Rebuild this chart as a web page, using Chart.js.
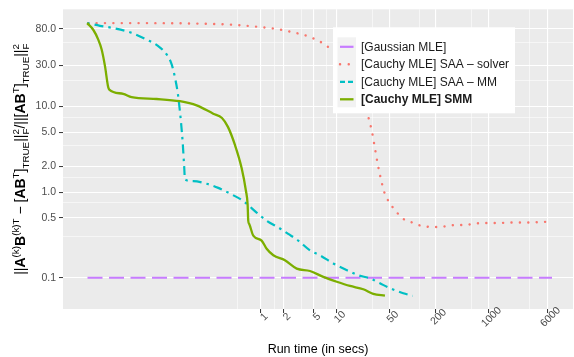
<!DOCTYPE html>
<html lang="en">
<head>
  <meta charset="UTF-8">
  <title>Run time vs error</title>
  <script src="https://cdn.jsdelivr.net/npm/chart.js"></script>
  <style>
    body { margin: 0; background: #fff; }
    #wrap { width: 574px; height: 357px; }
  </style>
</head>
<body>
  <div id="wrap"><canvas id="myChart" width="574" height="357"></canvas></div>
  <script>
    const FONT = '"Liberation Sans", Arial, sans-serif';

    // run times (secs) and relative errors
    const gaussTime = [0.0052, 6970];
    const gaussErr = [0.1, 0.1];

    const solverTime = [0.0053, 0.0347, 0.158, 0.431, 0.98, 1.64, 2.67, 4.47, 7.05, 8.47, 11.1, 15.1, 19.2, 22.4,
      26.1, 29.4, 32.2, 35.3, 39.5, 42.0, 46.4, 52.8, 62.3, 74.7, 94.1, 120, 153, 198, 252, 321, 522, 824, 1298,
      2047, 3190, 6225];
    const solverErr = [93.8, 93.8, 92.5, 89.7, 84.4, 80.0, 73.3, 64.7, 52.7, 46.2, 37.0, 26.2, 17.2, 11.8,
      7.73, 5.06, 3.22, 2.05, 1.30, 1.045, 0.845, 0.702, 0.583, 0.492, 0.451, 0.413, 0.395, 0.392, 0.395, 0.409,
      0.416, 0.435, 0.435, 0.442, 0.442, 0.451];

    const mmTime = [0.00515, 0.00759, 0.01136, 0.01887, 0.0313, 0.0446, 0.0575, 0.0670, 0.0740, 0.0804, 0.0849,
      0.0889, 0.0935, 0.0982, 0.1003, 0.129, 0.194, 0.276, 0.414, 0.589, 0.885, 1.20, 1.71, 2.31, 3.13, 4.47,
      6.06, 9.07, 13.6, 19.4, 27.7, 37.5, 50.8, 76.1, 101];
    const mmErr = [93.8, 87.3, 82.1, 73.3, 60.2, 50.5, 40.4, 31.0, 21.8, 14.6, 9.82, 6.59, 3.87, 1.91, 1.40,
      1.34, 1.25, 1.12, 0.940, 0.787, 0.577, 0.463, 0.387, 0.325, 0.272, 0.209, 0.183, 0.147, 0.123, 0.107,
      0.0984, 0.0861, 0.0755, 0.0661, 0.0615];

    const smmTime = [0.00515, 0.00619, 0.00721, 0.00799, 0.00883, 0.00976, 0.01007, 0.01538, 0.01986, 0.0425,
      0.0861, 0.143, 0.237, 0.309, 0.370, 0.458, 0.561, 0.640, 0.673, 0.686, 0.707, 0.799, 1.03, 1.20, 1.47,
      2.09, 2.99, 4.47, 6.70, 10.1, 15.1, 22.6, 30.6, 43.6];
    const smmErr = [93.8, 78.5, 60.2, 46.2, 29.7, 16.7, 15.7, 14.0, 12.8, 12.2, 11.5, 10.3, 8.22, 7.33, 5.77,
      3.55, 1.91, 1.03, 0.720, 0.463, 0.424, 0.310, 0.272, 0.218, 0.183, 0.160, 0.128, 0.120, 0.1026, 0.0899,
      0.0802, 0.0734, 0.0648, 0.0619];

    // axis breaks
    const xMajor = [1, 2, 5, 10, 50, 200, 1000, 6000];
    const xMinor = [0.5, 1.5, 3.5, 7.5, 30, 125, 600, 3500];
    const yMajor = [0.1, 0.5, 1, 2, 5, 10, 30, 80];
    const yMinor = [0.3, 0.75, 1.5, 3.5, 7.5, 20, 55];

    const pts = (xs, ys) => xs.map((x, i) => ({ x: x, y: ys[i] }));

    const datasets = [
      { label: '[Gaussian MLE]', data: pts(gaussTime, gaussErr), borderColor: '#C77CFF',
        borderWidth: 2.2, borderDash: [15, 6.5], order: 4, legendDash: [] },
      { label: '[Cauchy MLE] SAA \u2013 solver', data: pts(solverTime, solverErr), borderColor: '#F8766D',
        borderWidth: 2.4, borderDash: [0.1, 8.3], borderCapStyle: 'round', order: 3, legendDash: [0.1, 8.6] },
      { label: '[Cauchy MLE] SAA \u2013 MM', data: pts(mmTime, mmErr), borderColor: '#00BFC4',
        borderWidth: 2.2, borderDash: [2.5, 5, 9, 5], order: 2, legendDash: [5, 3] },
      { label: '[Cauchy MLE] SMM', data: pts(smmTime, smmErr), borderColor: '#7CAE00',
        borderWidth: 2.3, order: 1, legendDash: [], bold: true }
    ];

    const setTicks = (maj, min) => scale => {
      scale.ticks = maj.concat(min).sort((a, b) => a - b).map(v => ({ value: v }));
    };

    function drawYTitle(chart) {
      const ctx = chart.ctx, a = chart.chartArea;
      const big = 14, small = 9.8;
      const f = (s, b) => (b ? 'bold ' : '') + s + 'px ' + FONT;
      const segs = [
        ['||'], ['A', 1], ['(k)', 0, 'sup'], ['B', 1], ['(k)T', 0, 'sup'], [' \u2212 '], ['['], ['AB', 1],
        ['T', 0, 'sup'], [']'], ['TRUE', 0, 'sub'], ['||'], ['2', 0, 'both', 'F'], ['/'], ['||'], ['['],
        ['AB', 1], ['T', 0, 'sup'], [']'], ['TRUE', 0, 'sub'], ['||'], ['2', 0, 'both', 'F']
      ];
      ctx.save();
      const widths = segs.map(s => {
        if (s[2]) {
          ctx.font = f(small, s[1]);
          const w = ctx.measureText(s[0]).width;
          return s[3] ? Math.max(w, ctx.measureText(s[3]).width) : w;
        }
        ctx.font = f(big, s[1]);
        return ctx.measureText(s[0]).width;
      });
      const total = widths.reduce((p, c) => p + c, 0);
      ctx.translate(25, (a.top + a.bottom) / 2);
      ctx.rotate(-Math.PI / 2);
      ctx.fillStyle = '#000';
      ctx.textBaseline = 'alphabetic';
      ctx.textAlign = 'left';
      let x = -total / 2;
      segs.forEach((s, i) => {
        if (s[2] === 'sup') { ctx.font = f(small, s[1]); ctx.fillText(s[0], x, -6); }
        else if (s[2] === 'sub') { ctx.font = f(small, s[1]); ctx.fillText(s[0], x, 3.5); }
        else if (s[2] === 'both') {
          ctx.font = f(small, s[1]);
          ctx.fillText(s[0], x, -6.5);
          ctx.fillText(s[3], x, 3.5);
        } else { ctx.font = f(big, s[1]); ctx.fillText(s[0], x, 0); }
        x += widths[i];
      });
      ctx.restore();
    }

    function drawXLabels(chart) {
      const ctx = chart.ctx, sc = chart.scales.x, a = chart.chartArea;
      ctx.save();
      ctx.font = '10.5px ' + FONT;
      ctx.fillStyle = '#4D4D4D';
      ctx.textAlign = 'center';
      ctx.textBaseline = 'middle';
      xMajor.forEach(v => {
        const px = sc.getPixelForValue(v);
        ctx.save();
        ctx.translate(px + 3.5, a.bottom + 8);
        ctx.rotate(-Math.PI / 4);
        ctx.fillText(String(v), 0, 0);
        ctx.restore();
      });
      ctx.restore();
    }

    function drawLegend(chart) {
      const ctx = chart.ctx, a = chart.chartArea;
      const left = a.left + 270, top = a.top + 18;
      ctx.save();
      ctx.fillStyle = '#fff';
      ctx.fillRect(left, top, 182, 86);
      ctx.fillStyle = '#F2F2F2';
      ctx.fillRect(left + 4.5, top + 10, 18.5, 70);
      chart.data.datasets.forEach((ds, i) => {
        const y = top + 19.5 + i * 17.5;
        ctx.strokeStyle = ds.borderColor;
        ctx.lineWidth = ds.borderWidth;
        ctx.lineCap = ds.borderCapStyle || 'butt';
        ctx.setLineDash(ds.legendDash);
        ctx.beginPath();
        ctx.moveTo(left + 7, y);
        ctx.lineTo(left + 20.5, y);
        ctx.stroke();
        ctx.setLineDash([]);
        ctx.font = (ds.bold ? 'bold ' : '') + '12px ' + FONT;
        ctx.fillStyle = '#1A1A1A';
        ctx.textAlign = 'left';
        ctx.textBaseline = 'middle';
        ctx.fillText(ds.label, left + 28, y + 0.5);
      });
      ctx.restore();
    }

    const decor = {
      id: 'decor',
      beforeDraw(chart) {
        const { ctx, chartArea: a } = chart;
        ctx.save();
        ctx.fillStyle = '#fff';
        ctx.fillRect(0, 0, chart.width, chart.height);
        ctx.fillStyle = '#EBEBEB';
        ctx.fillRect(a.left, a.top, a.right - a.left, a.bottom - a.top);
        ctx.restore();
      },
      afterDraw(chart) {
        drawXLabels(chart);
        drawYTitle(chart);
        drawLegend(chart);
      }
    };

    const gridColor = maj => c => '#FFFFFF';
    const gridWidth = maj => c => (maj.includes(c.tick.value) ? 1.1 : 0.55);
    const tickColor = maj => c => (maj.includes(c.tick.value) ? '#333333' : 'rgba(0,0,0,0)');

    new Chart(document.getElementById('myChart'), {
      type: 'line',
      data: { datasets: datasets },
      options: {
        responsive: false,
        animation: false,
        layout: { padding: { top: 6, right: 1, left: 0, bottom: 0 } },
        elements: { point: { radius: 0 }, line: { cubicInterpolationMode: 'monotone', fill: false } },
        plugins: { legend: { display: false }, tooltip: { enabled: false } },
        scales: {
          x: {
            type: 'logarithmic',
            min: 0.00247,
            max: 13190,
            afterBuildTicks: setTicks(xMajor, xMinor),
            afterFit: s => { s.height = 48; },
            ticks: { display: false },
            grid: { color: gridColor(xMajor), lineWidth: gridWidth(xMajor), tickColor: tickColor(xMajor),
              tickLength: 4, tickWidth: 1 },
            border: { display: false },
            title: { display: true, text: 'Run time (in secs)', color: '#000',
              font: { family: FONT, size: 12.5 }, padding: { top: 0, bottom: 0 } }
          },
          y: {
            type: 'logarithmic',
            min: 0.0432,
            max: 136,
            afterBuildTicks: setTicks(yMajor, yMinor),
            afterFit: s => { s.width = 63; },
            ticks: {
              font: { family: FONT, size: 10.5 },
              color: '#4D4D4D',
              padding: 3,
              autoSkip: false,
              callback: v => (yMajor.includes(v) ? v.toFixed(1) : '')
            },
            grid: { color: gridColor(yMajor), lineWidth: gridWidth(yMajor), tickColor: tickColor(yMajor),
              tickLength: 4, tickWidth: 1 },
            border: { display: false }
          }
        }
      },
      plugins: [decor]
    });
  </script>
</body>
</html>
